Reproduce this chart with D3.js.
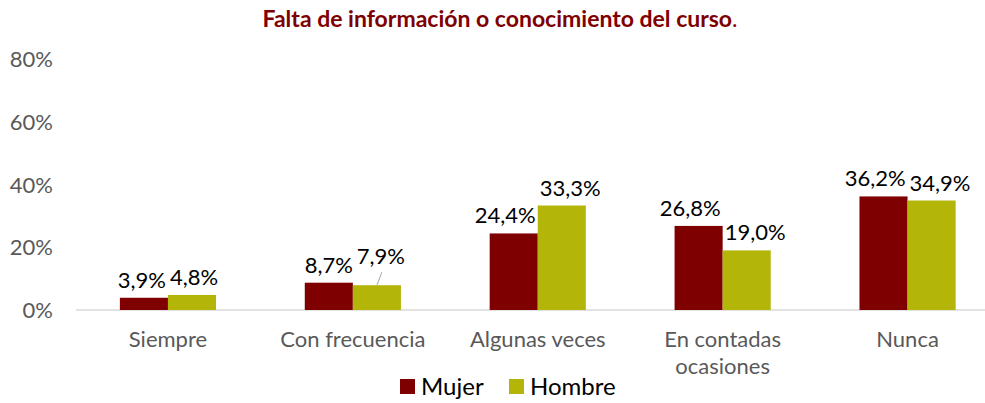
<!DOCTYPE html>
<html>
<head>
<meta charset="utf-8">
<script src="https://cdn.jsdelivr.net/npm/d3@7"></script>
<style>
  body { margin: 0; background: #fff; }
  svg { display: block; }
  text { font-family: Lato, "Open Sans", sans-serif; }
</style>
</head>
<body>
<svg id="mainFrame"></svg>
<script>
// values (percent)
const categories = ["Siempre", "Con frecuencia", "Algunas veces", "En contadas ocasiones", "Nunca"];
const mujer = [3.9, 8.7, 24.4, 26.8, 36.2];
const hombre = [4.8, 7.9, 33.3, 19.0, 34.9];
const yTicks = [0, 20, 40, 60, 80];
const seriesNames = ["Mujer", "Hombre"];
const colors = ["#7f0000", "#b3b509"];

const width = 985;
const height = 403;

function fmt(v) {
    return v.toFixed(1).replace(".", ",") + "%";
}

function draw() {
    const svg = d3.select("#mainFrame")
        .attr("width", width)
        .attr("height", height);

    const x = d3.scaleBand()
        .domain(categories)
        .range([75.5, 1000])
        .paddingInner(0.48)
        .paddingOuter(0.24);

    const xs = d3.scaleBand()
        .domain(seriesNames)
        .range([0, x.bandwidth()]);

    const y = d3.scaleLinear()
        .domain([0, 80])
        .range([310, 59]);

    // title
    svg.append("text")
        .attr("x", 500)
        .attr("y", 27)
        .attr("text-anchor", "middle")
        .attr("font-size", 23)
        .attr("font-weight", "bold")
        .attr("fill", "#7f0000")
        .text("Falta de información o conocimiento del curso")
        .append("tspan")
        .attr("font-weight", "normal")
        .text(".");

    // y axis labels (no axis line)
    const yAxis = svg.append("g")
        .attr("transform", "translate(53,0)")
        .call(d3.axisLeft(y).tickValues(yTicks).tickSize(0).tickPadding(0).tickFormat(d => d + "%"));
    yAxis.select(".domain").remove();
    yAxis.selectAll("text")
        .attr("font-size", 22)
        .attr("fill", "#595959")
        .attr("dy", "0.35em");

    // baseline
    svg.append("line")
        .attr("x1", 76).attr("x2", width)
        .attr("y1", y(0)).attr("y2", y(0))
        .attr("stroke", "#d9d9d9")
        .attr("stroke-width", 1.5);

    const rows = categories.map((c, i) => ({ cat: c, vals: [mujer[i], hombre[i]] }));

    const group = svg.selectAll("g.cat")
        .data(rows)
        .join("g")
        .attr("class", "cat")
        .attr("transform", d => `translate(${x(d.cat)},0)`);

    group.selectAll("rect")
        .data(d => d.vals.map((v, j) => ({ name: seriesNames[j], v: v, j: j })))
        .join("rect")
        .attr("x", d => xs(d.name))
        .attr("y", d => y(d.v))
        .attr("width", xs.bandwidth())
        .attr("height", d => y(0) - y(d.v))
        .attr("fill", d => colors[d.j]);

    // data labels
    group.each(function (d) {
        const g = d3.select(this);
        const labels = d.vals.map((v, j) => {
            const cx = xs(seriesNames[j]) + xs.bandwidth() / 2;
            const t = g.append("text")
                .attr("x", cx)
                .attr("y", y(v) - 10)
                .attr("text-anchor", "middle")
                .attr("font-size", 22)
                .attr("fill", "#000")
                .text(fmt(v));
            return { t, cx, v, w: t.node().getComputedTextLength() };
        });
        const a = labels[0], b = labels[1];
        const overlap = (a.cx + a.w / 2) - (b.cx - b.w / 2);
        const dy = y(b.v) - y(a.v);
        if (overlap > -6 && dy > 0 && dy < 3) {
            // second label sits right under the first: lift it and add a leader line
            b.t.attr("y", y(b.v) - 21).attr("x", b.cx + 4);
            g.append("line")
                .attr("x1", b.cx + 5).attr("y1", y(b.v) - 13)
                .attr("x2", b.cx).attr("y2", y(b.v))
                .attr("stroke", "#a6a6a6")
                .attr("stroke-width", 1);
        } else if (overlap > -4) {
            // push the two labels apart, leaving a small gap
            const push = (overlap + 4) / 2;
            a.t.attr("x", a.cx - push);
            b.t.attr("x", b.cx + push);
        }
    });

    // category labels, wrapped when too long
    const catText = svg.selectAll("text.cat")
        .data(categories)
        .join("text")
        .attr("class", "cat")
        .attr("x", d => x(d) + x.bandwidth() / 2)
        .attr("y", 347)
        .attr("text-anchor", "middle")
        .attr("font-size", 22)
        .attr("fill", "#595959");
    catText.each(function (d) {
        const el = d3.select(this);
        const words = d.split(" ");
        if (words.length > 2) {
            el.append("tspan").attr("x", el.attr("x")).text(words.slice(0, 2).join(" "));
            el.append("tspan").attr("x", el.attr("x")).attr("dy", 27).text(words.slice(2).join(" "));
        } else {
            el.text(d);
        }
    });

    // legend
    const legend = svg.append("g").attr("transform", "translate(400,379)");
    const item = legend.selectAll("g")
        .data(seriesNames)
        .join("g")
        .attr("transform", (d, i) => `translate(${i * 109},0)`);
    item.append("rect")
        .attr("width", 15)
        .attr("height", 15)
        .attr("fill", (d, i) => colors[i]);
    item.append("text")
        .attr("x", 21)
        .attr("y", 16)
        .attr("font-size", 24)
        .attr("fill", "#000")
        .text(d => d);

    return svg.node();
}

draw();
</script>
</body>
</html>
